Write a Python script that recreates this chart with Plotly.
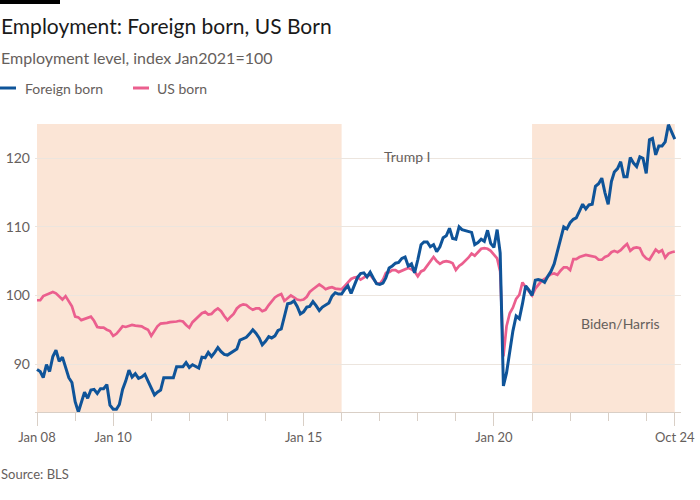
import plotly.graph_objects as go
import pandas as pd
import datetime as dt

# ---------------- data (monthly, Jan 2008 - Oct 2024, index Jan2021=100) -------------
foreign_born = [
    89.2, 88.9, 88.0, 89.9, 88.9, 91.1, 92.0, 90.4, 91.0, 89.4, 88.0, 87.3,   # 2008
    84.5, 83.0, 84.3, 85.9, 85.0, 86.2, 86.3, 85.7, 86.4, 86.4, 87.0, 84.0,   # 2009
    83.4, 83.4, 84.1, 86.3, 87.5, 89.1, 88.1, 88.6, 87.9, 88.1, 88.5, 87.5,   # 2010
    86.5, 85.5, 85.9, 86.2, 88.0, 88.0, 88.1, 88.0, 89.6, 89.6, 89.6, 90.2,   # 2011
    89.5, 89.9, 89.6, 89.4, 91.0, 90.9, 91.7, 91.1, 91.7, 92.4, 91.8, 91.4,   # 2012
    91.3, 91.6, 91.8, 92.2, 93.5, 93.7, 93.9, 94.4, 95.0, 94.5, 93.8, 92.8,   # 2013
    93.3, 94.0, 93.8, 94.1, 94.9, 95.1, 97.0, 98.8, 98.9, 99.2, 98.4, 97.3,   # 2014
    97.6, 98.3, 98.4, 99.1, 98.5, 97.8, 98.3, 98.6, 98.9, 99.9, 100.4, 100.2, # 2015
    100.2, 100.9, 101.4, 100.3, 101.4, 102.6, 103.2, 103.3, 102.7, 103.4, 102.5, 101.7,  # 2016
    101.6, 101.8, 102.6, 104.0, 104.3, 104.7, 104.8, 105.4, 105.6, 104.3, 104.6, 103.3,  # 2017
    105.2, 107.4, 107.8, 107.8, 107.1, 107.4, 106.4, 107.1, 108.4, 108.7, 109.8, 108.3,  # 2018
    108.2, 110.0, 109.6, 109.5, 109.3, 109.2, 107.4, 107.7, 108.2, 107.9, 109.5, 107.6,  # 2019
    107.0, 109.6, 106.2, 86.8, 88.7, 92.1, 94.8, 97.0, 96.6, 98.8, 101.4, 100.8,         # 2020
    100.0, 102.2, 102.3, 102.2, 101.9, 102.8, 103.5, 104.6, 106.4, 108.4, 110.0, 109.7,  # 2021
    110.6, 111.1, 111.3, 112.3, 113.3, 112.6, 113.2, 113.3, 115.9, 116.3, 117.1, 115.0,  # 2022
    113.3, 116.6, 118.0, 118.5, 119.5, 117.3, 117.3, 120.1, 119.3, 118.8, 120.2, 120.0,  # 2023
    117.8, 122.7, 122.9, 120.5, 121.8, 121.8, 122.4, 124.9, 123.9, 122.8,                # 2024
]

us_born = [
    99.3, 99.3, 99.9, 100.1, 100.3, 100.5, 100.3, 99.8, 99.4, 99.9, 99.2, 98.4,  # 2008
    96.9, 96.8, 96.4, 96.6, 96.7, 96.9, 96.3, 95.4, 95.3, 95.3, 95.0, 94.8,      # 2009
    94.1, 94.4, 94.9, 95.5, 95.4, 95.5, 95.7, 95.6, 95.5, 95.5, 95.2, 95.0,      # 2010
    94.1, 94.9, 95.5, 95.9, 95.9, 96.0, 96.1, 96.1, 96.2, 96.3, 96.2, 95.7,      # 2011
    95.3, 96.1, 96.5, 97.0, 97.4, 97.6, 97.2, 97.3, 97.8, 98.1, 97.7, 97.0,      # 2012
    96.4, 96.9, 97.3, 98.1, 98.5, 98.7, 98.6, 98.2, 97.9, 98.1, 98.1, 97.7,      # 2013
    97.9, 98.6, 99.2, 99.7, 100.0, 100.2, 99.2, 99.6, 100.0, 99.7, 99.4, 99.3,   # 2014
    99.4, 99.8, 100.5, 100.9, 101.3, 101.6, 101.3, 100.9, 101.1, 101.2, 101.0, 100.9,  # 2015
    100.9, 101.4, 101.9, 102.4, 102.6, 102.7, 102.3, 102.6, 102.9, 103.0, 102.4, 101.8,  # 2016
    101.7, 102.3, 103.3, 103.4, 103.7, 103.7, 103.4, 103.6, 103.8, 104.0, 103.8, 103.5,  # 2017
    102.8, 103.5, 103.7, 104.4, 104.9, 105.6, 105.0, 104.6, 104.9, 105.0, 104.9, 104.7,  # 2018
    103.7, 104.3, 104.6, 105.0, 105.5, 106.1, 105.8, 106.3, 106.8, 106.9, 106.8, 106.5,  # 2019
    106.0, 105.4, 103.5, 91.1, 95.5, 97.4, 98.2, 99.5, 100.1, 101.9, 101.2, 100.6,       # 2020
    100.0, 101.0, 101.6, 102.1, 102.4, 102.7, 103.1, 103.2, 103.0, 103.6, 104.1, 104.1,  # 2021
    103.7, 105.3, 105.3, 105.6, 105.8, 105.9, 105.8, 105.7, 105.6, 105.2, 105.2, 105.6,  # 2022
    105.8, 106.3, 106.5, 106.3, 106.6, 107.1, 107.5, 106.5, 106.9, 107.0, 106.9, 105.9,  # 2023
    105.4, 105.2, 106.0, 106.7, 106.3, 106.6, 105.5, 106.1, 106.3, 106.4,                # 2024
]

dates = pd.date_range("2008-01-01", periods=len(foreign_born), freq="MS")

tick_vals = ["2008-01-01", "2010-01-01", "2015-01-01", "2020-01-01", "2024-10-01"]
tick_text = ["Jan 08", "Jan 10", "Jan 15", "Jan 20", "Oct 24"]
y_ticks = [90, 100, 110, 120]

periods = [("2008-01-01", "2016-01-01"), ("2021-01-01", "2024-10-01")]
period_labels = [("Trump I", "2017-09-25", 120.3), ("Biden/Harris", "2023-05-01", 95.9)]

# ---------------- style -------------
BLUE = "#0f5499"
PINK = "#eb5f8e"
SHADE = "#fbe5d6"
GRID = "#ece5de"
AXIS = "#d9cfc6"
GREY = "#66605c"
FONT = "Lato"

W, H = 700, 500
L, R, T, B = 35, 19, 124, 88
PW, PH = W - L - R, H - T - B


def px(x):
    return (x - L) / PW


def py(y):
    return (H - B - y) / PH


fig = go.Figure()
fig.add_trace(go.Scatter(x=dates, y=us_born, mode="lines", name="US born",
                         line=dict(color=PINK, width=2.7), showlegend=False,
                         hoverinfo="skip"))
fig.add_trace(go.Scatter(x=dates, y=foreign_born, mode="lines", name="Foreign born",
                         line=dict(color=BLUE, width=3), showlegend=False,
                         hoverinfo="skip"))

for x0, x1 in periods:
    fig.add_vrect(x0=x0, x1=x1, fillcolor=SHADE, opacity=1, line_width=0, layer="below")

for text, xd, yv in period_labels:
    fig.add_annotation(x=xd, y=yv, xref="x", yref="y", text=text, showarrow=False,
                       font=dict(family=FONT, size=14, color=GREY))

# x range: small padding left/right
start = dt.datetime(2008, 1, 1)
px_per_day = (3.173 * 12) / 365.25
x_lo = start - dt.timedelta(days=2 / px_per_day)
x_hi = start + dt.timedelta(days=(W - R - 37) / px_per_day)

fig.update_layout(
    width=W, height=H,
    margin=dict(l=L, r=R, t=T, b=B, pad=0, autoexpand=False),
    paper_bgcolor="white", plot_bgcolor="white",
    font=dict(family=FONT, color=GREY),
    xaxis=dict(
        type="date", range=[x_lo, x_hi], automargin=False,
        tickmode="array", tickvals=tick_vals, ticktext=tick_text,
        ticks="outside", ticklen=13, tickwidth=1, tickcolor=AXIS,
        showgrid=False, showline=True, linecolor=AXIS, linewidth=1,
        tickfont=dict(family=FONT, size=13, color=GREY),
        minor=dict(ticks="outside", ticklen=8, tickwidth=1, tickcolor=AXIS,
                   dtick="M12", tick0="2008-01-01", showgrid=False),
        zeroline=False, fixedrange=True,
    ),
    yaxis=dict(
        range=[83, 125], tickmode="array", tickvals=y_ticks, automargin=False,
        showgrid=True, gridcolor=GRID, gridwidth=1,
        showline=False, ticks="", zeroline=False,
        tickfont=dict(family=FONT, size=14, color=GREY),
        ticklabelstandoff=4, fixedrange=True,
    ),
)

# black top bar
fig.add_shape(type="rect", xref="paper", yref="paper",
              x0=px(0), x1=px(60), y0=py(4), y1=py(0),
              fillcolor="black", line_width=0)

# title / subtitle / source
fig.add_annotation(xref="paper", yref="paper", x=px(-1), y=py(25), xanchor="left", yanchor="middle",
                   text="Employment: Foreign born, US Born", showarrow=False,
                   font=dict(family=FONT, size=21, color="#1a1a1a"))
fig.add_annotation(xref="paper", yref="paper", x=px(-1), y=py(57), xanchor="left", yanchor="middle",
                   text="Employment level, index Jan2021=100", showarrow=False,
                   font=dict(family=FONT, size=16, color=GREY))
fig.add_annotation(xref="paper", yref="paper", x=px(-1), y=py(474), xanchor="left", yanchor="middle",
                   text="Source: BLS", showarrow=False,
                   font=dict(family=FONT, size=13, color=GREY))

# manual legend
legend_items = [("Foreign born", BLUE, 0, 24), ("US born", PINK, 133, 156)]
for name, col, lx, tx in legend_items:
    fig.add_shape(type="line", xref="paper", yref="paper",
                  x0=px(lx), x1=px(lx + 16), y0=py(88), y1=py(88),
                  line=dict(color=col, width=3))
    fig.add_annotation(xref="paper", yref="paper", x=px(tx - 1), y=py(88), xanchor="left",
                       yanchor="middle", text=name, showarrow=False,
                       font=dict(family=FONT, size=14, color=GREY))

fig.write_html("out.html", config={"displayModeBar": False})
